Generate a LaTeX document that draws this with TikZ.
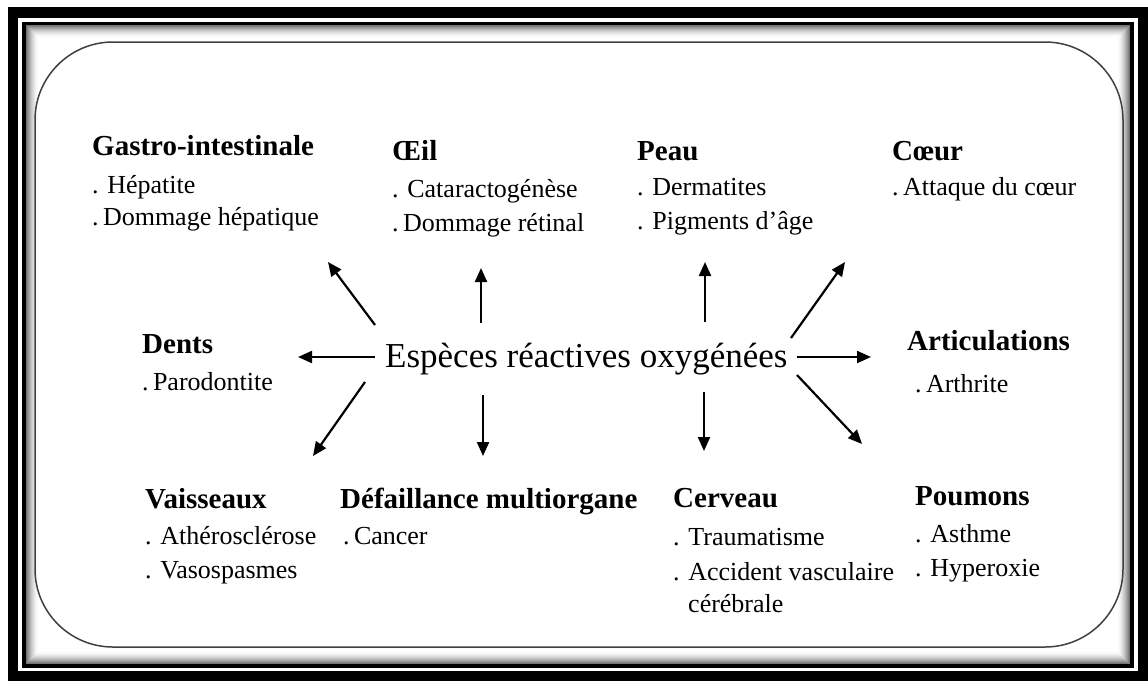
\documentclass[tikz,border=0pt]{standalone}
\usepackage{fontspec}
\setmainfont{Liberation Serif}
\usetikzlibrary{arrows.meta}

\begin{document}
\begin{tikzpicture}[x=1pt,y=-1pt,
  head/.style={font=\fontsize{29}{30}\selectfont\bfseries, anchor=base west, inner sep=0pt},
  item/.style={font=\fontsize{26}{28}\selectfont, anchor=base west, inner sep=0pt},
  ray/.style={line width=2.2pt, -{Triangle[length=14pt,width=12pt]}},
]
\useasboundingbox (0,0) rectangle (1148,681);
% outer double frame
\fill[white] (0,0) rectangle (1148,681);
\fill[black] (8,7) rectangle (1148,681);
\fill[white] (18,18) rectangle (1138,671);
\draw[line width=4pt] (24,23.5) rectangle (1132,665.5);
% inner shadow along the frame
\foreach \i in {0,...,11}{
  \pgfmathsetmacro\g{55*(1-\i/12)^1.6}
  \draw[black!\g, line width=1.1pt] (26.5+\i,26+\i) rectangle (1129.5-\i,663-\i);
}
% rounded panel
\draw[line width=1.5pt, black!75, rounded corners=78pt] (35,42) rectangle (1123,647);

% central term
\node[font=\fontsize{35}{36}\selectfont, anchor=base west, inner sep=0pt] (c) at (385,367) {Espèces réactives oxygénées};

% organs and disorders
\node[head] (gi)  at (92,155) {Gastro-intestinale};
\node[item] (gi1) at (92,193) {. Hépatite};
\node[item] (gi2) at (92,225) {.\,Dommage hépatique};

\node[head] (oe)  at (392,160) {Œil};
\node[item] (oe1) at (392,197) {. Cataractogénèse};
\node[item] (oe2) at (392,231) {.\,Dommage rétinal};

\node[head] (pe)  at (637,160) {Peau};
\node[item] (pe1) at (637,195) {. Dermatites};
\node[item] (pe2) at (637,229) {. Pigments d’âge};

\node[head] (co)  at (892,160) {Cœur};
\node[item] (co1) at (892,195) {.\,Attaque du cœur};

\node[head] (de)  at (142,353) {Dents};
\node[item] (de1) at (142,390) {.\,Parodontite};

\node[head] (ar)  at (907,350) {Articulations};
\node[item] (ar1) at (915,392) {.\,Arthrite};

\node[head] (va)  at (145,508) {Vaisseaux};
\node[item] (va1) at (145,544) {. Athérosclérose};
\node[item] (va2) at (145,578) {. Vasospasmes};

\node[head] (df)  at (340,508) {Défaillance multiorgane};
\node[item] (df1) at (343,544) {.\,Cancer};

\node[head] (ce)  at (673,507) {Cerveau};
\node[item] (ce1) at (673,545) {. Traumatisme};
\node[item] (ce2) at (673,580) {. Accident vasculaire};
\node[item] (ce3) at (688,612) {cérébrale};

\node[head] (po)  at (915,505) {Poumons};
\node[item] (po1) at (915,542) {. Asthme};
\node[item] (po2) at (915,576) {. Hyperoxie};

% arrow ends
\coordinate (t1) at (375,325); \coordinate (h1) at (328,262);
\coordinate (t2) at (481,323); \coordinate (h2) at (481,268);
\coordinate (t3) at (705,322); \coordinate (h3) at (705,262);
\coordinate (t4) at (791,338); \coordinate (h4) at (845,262);
\coordinate (t5) at (375,357); \coordinate (h5) at (298,357);
\coordinate (t6) at (797,357); \coordinate (h6) at (871,357);
\coordinate (t7) at (365,382); \coordinate (h7) at (313,456);
\coordinate (t8) at (483,395); \coordinate (h8) at (483,456);
\coordinate (t9) at (704,392); \coordinate (h9) at (704,451);
\coordinate (t10) at (797,375); \coordinate (h10) at (862,444);

\foreach \k in {1,...,10}{ \draw[ray] (t\k) -- (h\k); }
\end{tikzpicture}
\end{document}
